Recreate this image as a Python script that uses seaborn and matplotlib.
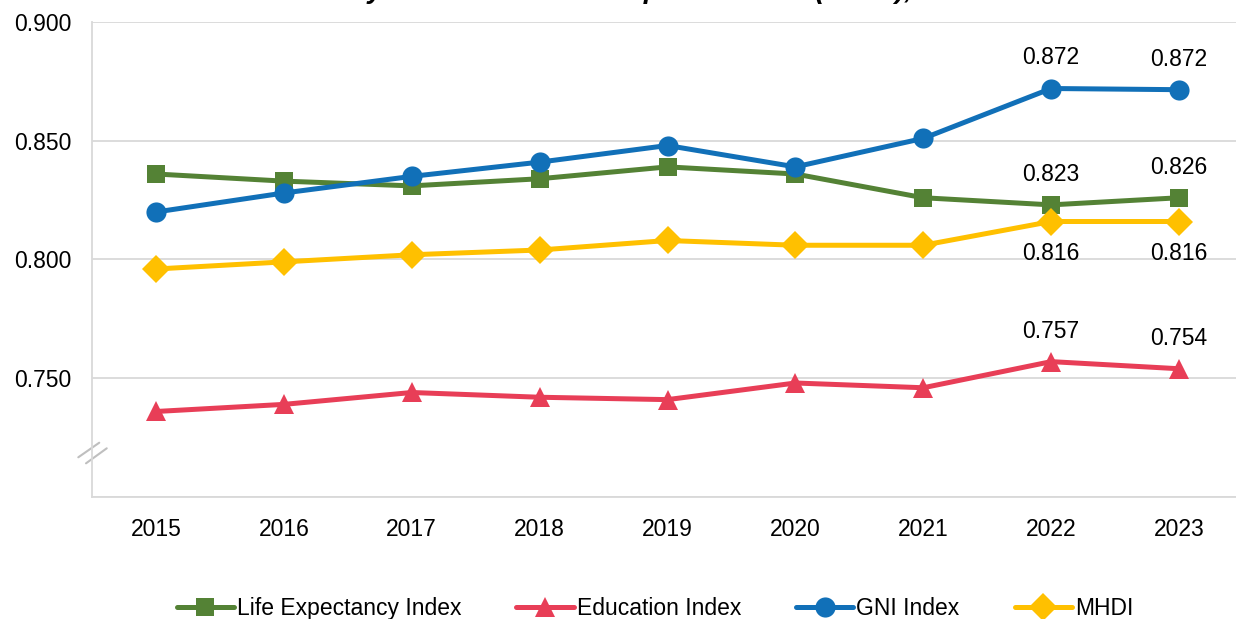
import numpy as np
import pandas as pd
import seaborn as sns
import matplotlib
matplotlib.use("Agg")
import matplotlib.pyplot as plt
from matplotlib.lines import Line2D

years = ["2015", "2016", "2017", "2018", "2019", "2020", "2021", "2022", "2023"]
life_expectancy = [0.836, 0.833, 0.831, 0.834, 0.839, 0.836, 0.826, 0.823, 0.826]
education = [0.736, 0.739, 0.744, 0.742, 0.741, 0.748, 0.746, 0.757, 0.754]
gni = [0.820, 0.828, 0.835, 0.841, 0.848, 0.839, 0.851, 0.872, 0.8715]
mhdi = [0.796, 0.799, 0.802, 0.804, 0.808, 0.806, 0.806, 0.816, 0.816]
series_names = ["Life Expectancy Index", "Education Index", "GNI Index", "MHDI"]
y_ticks = [0.700, 0.750, 0.800, 0.850, 0.900]
y_tick_labels = ["", "0.750", "0.800", "0.850", "0.900"]
title = "Malaysia's Human Development Index (MHDI), 2015\u20132023"

sns.set_theme(style="white")
plt.rcParams["font.family"] = ["Liberation Sans", "DejaVu Sans"]
plt.rcParams["text.color"] = "#000000"

FS = 16.5
colors = ["#548235", "#E83E57", "#1170B8", "#FFC000"]
markers = ["s", "^", "o", "D"]
msizes = [13, 14.5, 14.5, 14.5]
values = [life_expectancy, education, gni, mhdi]
label_offsets = [22, 22, 22, -23]  # pts above/below, only 2022/2023 labelled

fig = plt.figure(figsize=(12.36, 6.19), dpi=100)
ax = fig.add_axes([92 / 1236, 1 - 497 / 619, 1151 / 1236, 475 / 619])

xpos = np.arange(len(years))
for name, vals, c, m, ms in zip(series_names, values, colors, markers, msizes):
    df = pd.DataFrame({"x": xpos, "y": vals})
    sns.lineplot(data=df, x="x", y="y", ax=ax, color=c, marker=m, markersize=ms,
                 markeredgewidth=0, linewidth=3.6, label=name, legend=False)

for vals, off, c in zip(values, label_offsets, colors):
    for i in (7, 8):
        ax.annotate(f"{vals[i]:.3f}", (xpos[i], vals[i]), xytext=(0, off),
                    textcoords="offset points", ha="center", va="center",
                    fontsize=FS, color="#000000")

ax.set_xlim(-0.5, 8.5)
ax.set_ylim(0.700, 0.900)
ax.set_yticks(y_ticks)
ax.set_yticklabels(y_tick_labels)
ax.set_xticks(xpos)
ax.set_xticklabels(years)
ax.set_xticks(np.arange(-0.5, 9, 1), minor=True)
ax.tick_params(axis="x", which="major", length=0, pad=15, labelsize=FS, labelcolor="#000000")
ax.tick_params(axis="x", which="minor", length=7, width=1.2, color="#D9D9D9", direction="out")
ax.tick_params(axis="y", length=0, pad=15, labelsize=FS, labelcolor="#000000")
ax.set_xlabel("")
ax.set_ylabel("")
ax.grid(axis="y", color="#D9D9D9", linewidth=1.3)
ax.grid(axis="x", visible=False)
for s in ["top", "right"]:
    ax.spines[s].set_visible(False)
for s in ["left", "bottom"]:
    ax.spines[s].set_color("#D9D9D9")
    ax.spines[s].set_linewidth(1.3)

# axis break marks
for (x0, y0, x1, y1) in [(-0.0119, 0.0836, 0.0063, 0.1143), (-0.0052, 0.0709, 0.0128, 0.1025)]:
    ax.plot([x0, x1], [y0, y1], transform=ax.transAxes, color="#BFBFBF",
            linewidth=1.5, clip_on=False)

handles = [Line2D([0], [0], color=c, marker=m, markersize=ms, markeredgewidth=0, linewidth=3.6)
           for c, m, ms in zip(colors, markers, msizes)]
fig.legend(handles, series_names, loc="center", bbox_to_anchor=(655 / 1236, 0.017),
           ncol=4, frameon=False, fontsize=FS, handlelength=2.5, handletextpad=0.13,
           columnspacing=2.4, labelcolor="#000000")

fig.text(306 / 1236, 1 + 2.5 / 619, title, ha="left", va="baseline", fontsize=20,
         fontweight="bold", fontstyle="italic", color="#000000")

fig.savefig("out.png", dpi=100)
